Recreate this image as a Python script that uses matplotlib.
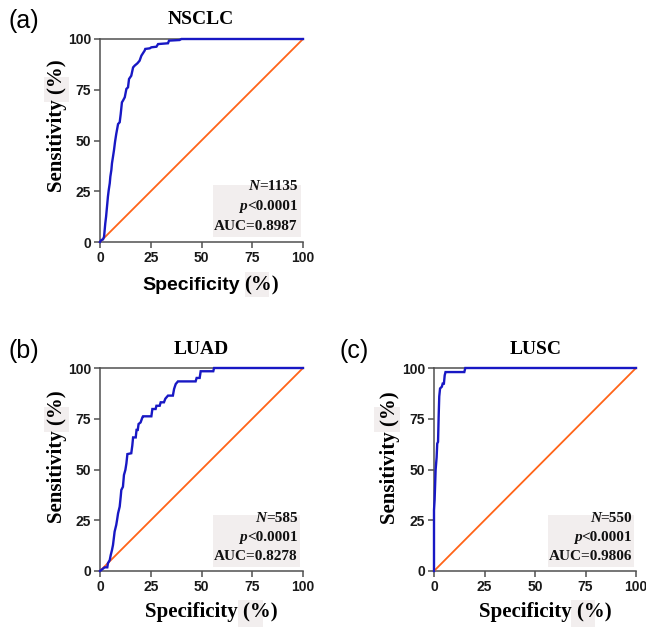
import matplotlib
matplotlib.use("Agg")
import matplotlib.pyplot as plt
from matplotlib.patches import Rectangle

# ---------------- data ----------------
titles = ["NSCLC", "LUAD", "LUSC"]
panel_tags = ["(a)", "(b)", "(c)"]
n_values = ["1135", "585", "550"]
p_text = "<0.0001"
auc_values = ["0.8987", "0.8278", "0.9806"]
ticks = [0, 25, 50, 75, 100]

fpr_a = [0, 0.7, 1.5, 2.0, 2.3, 2.6, 3.0, 3.3, 3.6, 3.9, 4.3, 4.8, 5.1, 5.6, 5.9, 6.4,
         6.9, 7.4, 8.0, 8.9, 9.7, 10.2, 10.8, 11.3, 12.2, 13.0, 13.8, 14.3, 15.4, 16.3,
         17.1, 18.4, 19.5, 20.4, 22.0, 22.3, 24.5, 25.3, 27.8, 28.6, 33.5, 34.0, 39.2,
         40.1, 100]
tpr_a = [0, 1.0, 1.3, 2.6, 5.9, 9.2, 12.5, 15.8, 19.0, 22.3, 25.6, 28.9, 32.2, 35.5,
         38.8, 42.0, 45.3, 49.3, 53.2, 58.1, 59.0, 63.0, 68.8, 69.6, 71.3, 75.4, 76.2,
         80.3, 81.9, 86.0, 86.9, 88.0, 89.3, 91.8, 94.3, 95.1, 95.4, 95.9, 96.2, 97.5,
         97.9, 99.2, 99.5, 100, 100]

fpr_b = [0, 1.0, 2.3, 3.6, 3.9, 4.8, 5.3, 5.9, 6.4, 6.9, 7.2, 8.0, 8.4, 8.9, 9.7, 10.2,
         10.5, 11.3, 11.8, 12.5, 13.0, 13.5, 15.4, 15.9, 16.3, 17.6, 18.0, 18.6, 19.0,
         20.0, 20.9, 21.2, 25.3, 25.8, 27.4, 27.8, 29.4, 29.9, 31.5, 32.2, 33.5, 35.9,
         36.5, 37.3, 38.4, 47.1, 47.6, 49.1, 49.6, 55.8, 56.2, 100]
tpr_b = [0, 0.8, 1.8, 1.8, 3.8, 5.4, 7.9, 10.3, 12.8, 16.9, 19.4, 22.7, 25.1, 28.4,
         31.7, 36.6, 39.9, 41.5, 47.3, 49.8, 53.0, 57.6, 58.0, 61.7, 65.8, 65.8, 69.5,
         69.5, 72.4, 73.2, 75.7, 76.2, 76.2, 79.8, 79.8, 81.4, 81.4, 83.1, 83.1, 84.9,
         86.4, 86.4, 89.7, 92.1, 93.4, 93.4, 95.1, 95.1, 98.4, 98.4, 100, 100]

fpr_c = [0, 0, 0.3, 0.8, 1.3, 1.6, 2.0, 2.3, 2.6, 3.0, 3.9, 4.3, 4.9, 5.3, 5.7, 15.0,
         15.5, 100]
tpr_c = [0, 30, 35, 49.8, 56, 62.8, 63.6, 75.9, 86, 89.9, 90.8, 92.3, 92.3, 96.4, 98.0,
         98.0, 100, 100]

curves = [(fpr_a, tpr_a), (fpr_b, tpr_b), (fpr_c, tpr_c)]

# ---------------- style ----------------
SERIF = "Liberation Serif"
SANS = "Liberation Sans"
BLUE = "#1818c4"
ORANGE = "#ff6418"
SPINE = "#505050"
BOXC = "#f2eeee"
W, H = 646, 627

fig = plt.figure(figsize=(W / 100, H / 100), dpi=100)


def fx(x):
    return x / W


def fy(y):
    return 1 - y / H


def add_axes_px(l, t, r, b):
    return fig.add_axes([fx(l), fy(b), (r - l) / W, (b - t) / H])


def fig_box(l, t, r, b):
    fig.add_artist(Rectangle((fx(l), fy(b)), (r - l) / W, (b - t) / H,
                             transform=fig.transFigure, facecolor=BOXC,
                             edgecolor="none", zorder=1))


ax_rects = [(100, 39, 303, 242), (100, 368, 303, 571), (434, 368, 636, 571)]
stat_boxes = [(55.7, 2.5, 99.0, 28.1), (55.7, 2.0, 98.5, 27.6), (56.2, 2.0, 99.0, 27.6)]
stat_right = [97.3, 97.3, 98.2]
stat_ys = [(27.1, 17.7, 7.4), (26.1, 16.7, 6.9), (26.1, 16.7, 6.9)]

for i, ((l, t, r, b), (fp, tp)) in enumerate(zip(ax_rects, curves)):
    ax = add_axes_px(l, t, r, b)
    ax.set_xlim(0, 100)
    ax.set_ylim(0, 100)
    ax.plot([0, 100], [0, 100], color=ORANGE, lw=1.3, zorder=3, clip_on=False)
    ax.plot(fp, tp, color=BLUE, lw=1.7, zorder=4, clip_on=False,
            solid_joinstyle="miter")
    for s in ["right"]:
        ax.spines[s].set_visible(False)
    for s in ["left", "bottom", "top"]:
        ax.spines[s].set_color(SPINE)
        ax.spines[s].set_linewidth(1.1)
    ax.set_xticks(ticks)
    ax.set_yticks(ticks)
    ax.set_xticklabels([str(v) for v in ticks])
    ax.set_yticklabels([str(v) for v in ticks])
    ax.tick_params(direction="out", length=4, width=1.1, color=SPINE,
                   labelsize=10, labelcolor="#1a1a1a", pad=2.5)
    for lab in ax.get_xticklabels() + ax.get_yticklabels():
        lab.set_fontfamily(SANS)
        lab.set_fontweight("bold")
    # stats box
    x0, y0, x1, y1 = stat_boxes[i]
    ax.add_patch(Rectangle((x0, y0), x1 - x0, y1 - y0, facecolor=BOXC,
                           edgecolor="none", zorder=2, clip_on=False))
    xr = stat_right[i]
    yn, yp, ya = stat_ys[i]
    kw = dict(fontfamily=SERIF, fontweight="bold", fontsize=11, color="#111111", zorder=5)
    t1 = ax.text(xr, yn, "=" + n_values[i], ha="right", va="center", **kw)
    ax.annotate("N", xy=(0, 0), xycoords=t1, ha="right", va="bottom",
                fontstyle="italic", **kw)
    t2 = ax.text(xr, yp, p_text, ha="right", va="center", **kw)
    ax.annotate("p", xy=(0, 0), xycoords=t2, ha="right", va="bottom",
                fontstyle="italic", **kw)
    ax.text(xr, ya, "AUC=" + auc_values[i], ha="right", va="center", **kw)

# titles & panel tags
title_pos = [(201, 20), (201, 350), (536, 350)]
tag_pos = [(24, 21), (24, 351), (354, 351)]
for i in range(3):
    fig.text(fx(title_pos[i][0]), fy(title_pos[i][1]), titles[i], ha="center",
             va="center", fontfamily=SERIF, fontweight="bold", fontsize=14)
    fig.text(fx(tag_pos[i][0]), fy(tag_pos[i][1]), panel_tags[i], ha="center",
             va="center", fontfamily=SANS, fontsize=18)

# y labels
ylab_pos = [(57, 126), (57, 457), (390, 458)]
ylab_boxes = [(44, 77, 69, 102), (44, 407, 69, 432), (374, 407, 400, 432)]
for (x, y), bx in zip(ylab_pos, ylab_boxes):
    fig_box(*bx)
    fig.text(fx(x), fy(y), "Sensitivity (%)", rotation=90, ha="center", va="center",
             fontfamily=SERIF, fontweight="bold", fontsize=15, zorder=3)

# x label (a): mixed fonts
fig_box(245, 272, 269, 297)
fig.text(fx(142), fy(290), "Specificity", ha="left", va="baseline",
         fontfamily=SANS, fontweight="bold", fontsize=14, zorder=3)
fig.text(fx(244), fy(290), "(%)", ha="left", va="baseline",
         fontfamily=SERIF, fontweight="bold", fontsize=15, zorder=3)

# x labels (b), (c)
fig_box(238, 600, 263, 627)
fig_box(571, 600, 595, 627)
for x in [211.5, 545.5]:
    fig.text(fx(x), fy(612), "Specificity (%)", ha="center", va="center",
             fontfamily=SERIF, fontweight="bold", fontsize=15, zorder=3)

fig.savefig("out.png", dpi=100)
